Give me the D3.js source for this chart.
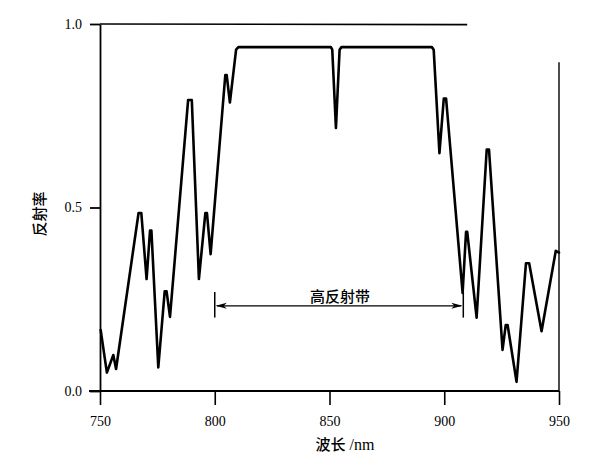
<!DOCTYPE html>
<html>
<head>
<meta charset="utf-8">
<script src="https://cdn.jsdelivr.net/npm/d3@7"></script>
<style>
  html, body { margin: 0; padding: 0; background: #fff; }
  svg { display: block; }
</style>
</head>
<body>
<svg id="chart" width="600" height="468"></svg>
<script>
// ---- data ----
const wavelength = [750.3, 753, 755.8, 757, 766.8, 768, 770.3, 771.8, 772.4, 775.4,
  778.2, 779, 780.5, 788.4, 790, 793.1, 795.9, 796.6, 798.2, 804.6,
  805.2, 806.6, 809.3, 810.3, 850.6, 851.2, 852.8, 854.4, 855.2, 894.6,
  895.4, 897.9, 899.8, 900.8, 908, 909.5, 910, 914.1, 918.5, 919.5,
  925.4, 926.8, 927.6, 931.5, 935.6, 937, 942.4, 948.6, 950];
const reflectance = [0.166, 0.05, 0.098, 0.06, 0.485, 0.485, 0.305, 0.437, 0.437, 0.064,
  0.272, 0.272, 0.202, 0.793, 0.793, 0.305, 0.485, 0.485, 0.373, 0.861,
  0.861, 0.786, 0.93, 0.937, 0.937, 0.93, 0.717, 0.93, 0.937, 0.937,
  0.93, 0.648, 0.797, 0.797, 0.267, 0.434, 0.434, 0.2, 0.658, 0.658,
  0.112, 0.18, 0.18, 0.025, 0.348, 0.348, 0.163, 0.382, 0.377];
const xTicks = [750, 800, 850, 900, 950];
const yTicks = [0.0, 0.5, 1.0];
const bandLabel = "高反射带";
const bandRange = [800, 908.3];       // high reflection band (nm)
const bandArrowLevel = 0.232;
const bandBarRange = [0.2, 0.27];
const yTitle = "反射率";
const xTitleCn = "波长";
const xTitleUnit = " /nm";
const topLineEnd = 910;               // nm where top frame line ends
const rightLineTop = 0.896;           // reflectance where right frame line starts

// ---- scales ----
const svg = d3.select("#chart");
const x = d3.scaleLinear().domain([750, 950]).range([100, 559]);
const y = d3.scaleLinear().domain([0, 1]).range([391, 24]);

const serif = "'Liberation Serif', 'DejaVu Serif', serif";
const cjk = "'Noto Sans CJK SC', 'Noto Sans', sans-serif";

svg.append("rect").attr("width", 600).attr("height", 468).attr("fill", "#fff");

// ---- axes ----
const xAxis = d3.axisBottom(x).tickValues(xTicks).tickFormat(d3.format("d"))
  .tickSize(14).tickSizeOuter(0).tickPadding(11);
const gx = svg.append("g").attr("transform", `translate(0,${y(0)})`).call(xAxis);
gx.select(".domain").remove();
gx.append("line").attr("x1", 89).attr("x2", x(950)).attr("y1", 0).attr("y2", 0)
  .attr("stroke", "#000").attr("stroke-width", 1.8);
gx.selectAll(".tick line").attr("stroke", "#000").attr("stroke-width", 1.6);
gx.selectAll(".tick text").attr("font-family", serif).attr("font-size", 14).attr("fill", "#000");

const yAxis = d3.axisLeft(y).tickValues(yTicks).tickFormat(d3.format(".1f"))
  .tickSize(10).tickSizeOuter(0).tickPadding(8);
const gy = svg.append("g").attr("transform", `translate(${x(750)},0)`).call(yAxis);
gy.select(".domain").attr("stroke", "#000").attr("stroke-width", 1.8);
gy.selectAll(".tick line").attr("stroke", "#000").attr("stroke-width", 1.8);
gy.selectAll(".tick text").attr("font-family", serif).attr("font-size", 14).attr("fill", "#000");

// top frame line & right line
svg.append("line").attr("x1", x(750)).attr("x2", x(topLineEnd)).attr("y1", y(1)).attr("y2", y(1) + 0.6)
  .attr("stroke", "#000").attr("stroke-width", 1.7);
svg.append("line").attr("x1", x(950)).attr("x2", x(950)).attr("y1", y(rightLineTop)).attr("y2", y(0))
  .attr("stroke", "#000").attr("stroke-width", 1.4);

// ---- curve ----
const pts = wavelength.map((w, i) => [w, reflectance[i]]);
const line = d3.line().x(d => x(d[0])).y(d => y(d[1]));
svg.append("path").datum(pts)
  .attr("d", line)
  .attr("fill", "none").attr("stroke", "#000").attr("stroke-width", 2.6)
  .attr("stroke-linejoin", "round").attr("stroke-linecap", "round");

// ---- band annotation ----
const ann = svg.append("g").attr("stroke", "#000");
bandRange.forEach(b => {
  ann.append("line").attr("x1", x(b)).attr("x2", x(b))
    .attr("y1", y(bandBarRange[1])).attr("y2", y(bandBarRange[0])).attr("stroke-width", 1.5);
});
const ay = y(bandArrowLevel);
ann.append("line").attr("x1", x(bandRange[0]) + 2).attr("x2", x(bandRange[1]) - 2)
  .attr("y1", ay).attr("y2", ay).attr("stroke-width", 1.2);
const xl = x(bandRange[0]) + 1, xr = x(bandRange[1]) - 1;
svg.append("path").attr("d", `M${xl},${ay} L${xl + 11},${ay - 3} L${xl + 8},${ay} L${xl + 11},${ay + 3} Z`).attr("fill", "#000");
svg.append("path").attr("d", `M${xr},${ay} L${xr - 11},${ay - 3} L${xr - 8},${ay} L${xr - 11},${ay + 3} Z`).attr("fill", "#000");
svg.append("text").attr("x", x(854.6)).attr("y", ay - 4).attr("text-anchor", "middle")
  .attr("font-family", cjk).attr("font-size", 15).attr("font-weight", 500)
  .attr("fill", "#000").text(bandLabel);

// ---- titles ----
svg.append("text").attr("transform", "translate(45,214) rotate(-90)").attr("text-anchor", "middle")
  .attr("font-family", cjk).attr("font-size", 15).attr("font-weight", 500)
  .attr("fill", "#000").text(yTitle);
const xt = svg.append("text").attr("x", 345).attr("y", 450).attr("text-anchor", "middle").attr("fill", "#000");
xt.append("tspan").attr("font-family", cjk).attr("font-size", 15).attr("font-weight", 500).text(xTitleCn);
xt.append("tspan").attr("font-family", serif).attr("font-size", 16).text(xTitleUnit);
</script>
</body>
</html>
